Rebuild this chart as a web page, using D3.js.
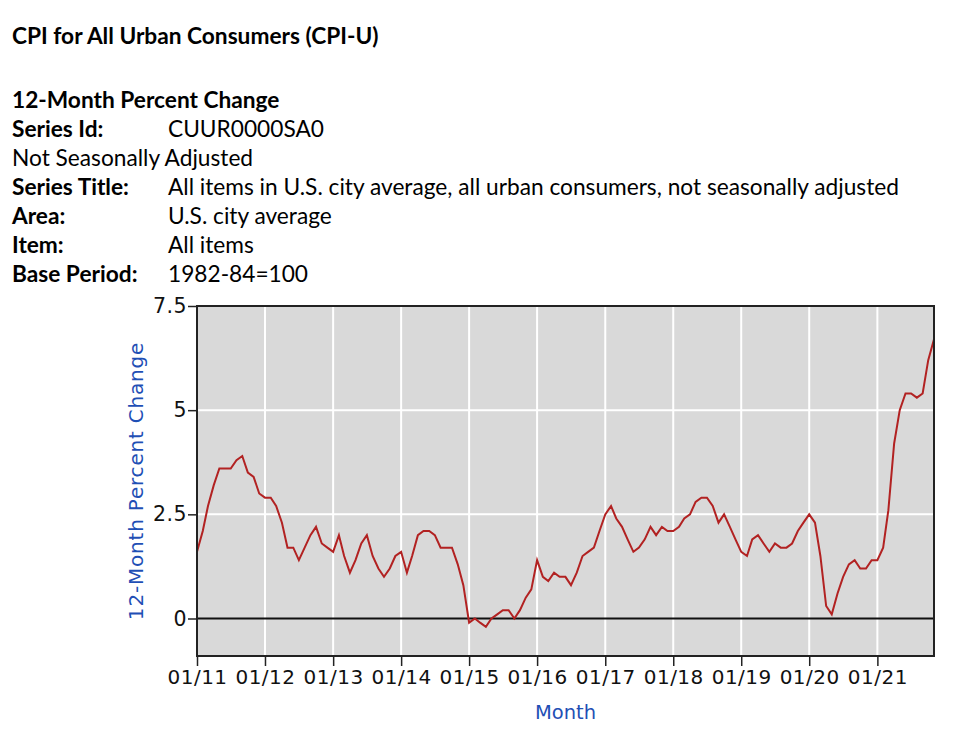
<!DOCTYPE html>
<html>
<head>
<meta charset="utf-8">
<script src="https://cdn.jsdelivr.net/npm/d3@7"></script>
<style>
  html, body { margin: 0; padding: 0; background: #fff; }
  svg { display: block; }
</style>
</head>
<body>
<svg id="chart" width="979" height="737"></svg>
<script>
// ---------- data ----------
const title = "CPI for All Urban Consumers (CPI-U)";
const subtitle = "12-Month Percent Change";
const metaLabels = ["Series Id:", "", "Series Title:", "Area:", "Item:", "Base Period:"];
const metaValues = ["CUUR0000SA0", "Not Seasonally Adjusted",
  "All items in U.S. city average, all urban consumers, not seasonally adjusted",
  "U.S. city average", "All items", "1982-84=100"];

const startYear = 2011;
const startMonth = 0; // January
const values = [
  // 2011
  1.6, 2.1, 2.7, 3.2, 3.6, 3.6, 3.6, 3.8, 3.9, 3.5, 3.4, 3.0,
  // 2012
  2.9, 2.9, 2.7, 2.3, 1.7, 1.7, 1.4, 1.7, 2.0, 2.2, 1.8, 1.7,
  // 2013
  1.6, 2.0, 1.5, 1.1, 1.4, 1.8, 2.0, 1.5, 1.2, 1.0, 1.2, 1.5,
  // 2014
  1.6, 1.1, 1.5, 2.0, 2.1, 2.1, 2.0, 1.7, 1.7, 1.7, 1.3, 0.8,
  // 2015
  -0.1, 0.0, -0.1, -0.2, 0.0, 0.1, 0.2, 0.2, 0.0, 0.2, 0.5, 0.7,
  // 2016
  1.4, 1.0, 0.9, 1.1, 1.0, 1.0, 0.8, 1.1, 1.5, 1.6, 1.7, 2.1,
  // 2017
  2.5, 2.7, 2.4, 2.2, 1.9, 1.6, 1.7, 1.9, 2.2, 2.0, 2.2, 2.1,
  // 2018
  2.1, 2.2, 2.4, 2.5, 2.8, 2.9, 2.9, 2.7, 2.3, 2.5, 2.2, 1.9,
  // 2019
  1.6, 1.5, 1.9, 2.0, 1.8, 1.6, 1.8, 1.7, 1.7, 1.8, 2.1, 2.3,
  // 2020
  2.5, 2.3, 1.5, 0.3, 0.1, 0.6, 1.0, 1.3, 1.4, 1.2, 1.2, 1.4,
  // 2021
  1.4, 1.7, 2.6, 4.2, 5.0, 5.4, 5.4, 5.3, 5.4, 6.2, 6.7
];
const yTicks = [0, 2.5, 5, 7.5];
const yTickLabels = ["0", "2.5", "5", "7.5"];
const xTickYears = [2011, 2012, 2013, 2014, 2015, 2016, 2017, 2018, 2019, 2020, 2021];
const yMin = -0.9, yMax = 7.5;
const yTitle = "12-Month Percent Change";
const xTitle = "Month";

// ---------- build ----------
const data = values.map((v, i) => ({ date: new Date(startYear, startMonth + i, 1), value: v }));

const svg = d3.select("#chart");
const textFont = "Lato, 'Source Sans Pro', 'Noto Sans', sans-serif";
const axisFont = "'DejaVu Sans', Verdana, sans-serif";
const hSize = 22.7;

// header
const header = svg.append("g");
header.append("text").attr("x", 12).attr("y", 44)
  .attr("font-family", textFont).attr("font-weight", 700).attr("font-size", hSize)
  .attr("fill", "#000").text(title);
header.append("text").attr("x", 12).attr("y", 108)
  .attr("font-family", textFont).attr("font-weight", 700).attr("font-size", hSize)
  .attr("fill", "#000").text(subtitle);

const lineY0 = 137, lineStep = 28.9;
metaValues.forEach((val, i) => {
  const yy = lineY0 + i * lineStep;
  if (metaLabels[i]) {
    header.append("text").attr("x", 12).attr("y", yy)
      .attr("font-family", textFont).attr("font-weight", 700).attr("font-size", hSize)
      .attr("fill", "#000").text(metaLabels[i]);
    header.append("text").attr("x", 168).attr("y", yy)
      .attr("font-family", textFont).attr("font-weight", 400).attr("font-size", hSize)
      .attr("fill", "#000").text(val);
  } else {
    header.append("text").attr("x", 12).attr("y", yy)
      .attr("font-family", textFont).attr("font-weight", 400).attr("font-size", hSize)
      .attr("fill", "#000").text(val);
  }
});

// chart area
const pLeft = 197, pRight = 934, pTop = 306, pBottom = 656;
const x = d3.scaleTime()
  .domain([data[0].date, data[data.length - 1].date])
  .range([pLeft, pRight]);
const y = d3.scaleLinear().domain([yMin, yMax]).range([pBottom, pTop]);

svg.append("rect").attr("x", pLeft).attr("y", pTop)
  .attr("width", pRight - pLeft).attr("height", pBottom - pTop)
  .attr("fill", "#d9d9d9");

const xTickDates = xTickYears.map(yr => new Date(yr, 0, 1));

// grid
svg.append("g").selectAll("line").data(xTickDates.slice(1)).join("line")
  .attr("x1", d => x(d)).attr("x2", d => x(d))
  .attr("y1", pTop).attr("y2", pBottom)
  .attr("stroke", "#fff").attr("stroke-width", 2);
svg.append("g").selectAll("line").data(yTicks.filter(t => t !== 0 && t !== yMax)).join("line")
  .attr("x1", pLeft).attr("x2", pRight)
  .attr("y1", d => y(d)).attr("y2", d => y(d))
  .attr("stroke", "#fff").attr("stroke-width", 2);

// zero line
svg.append("line").attr("x1", pLeft).attr("x2", pRight)
  .attr("y1", y(0)).attr("y2", y(0))
  .attr("stroke", "#111").attr("stroke-width", 2);

// data line
svg.append("path").datum(data)
  .attr("fill", "none").attr("stroke", "#b22222").attr("stroke-width", 2)
  .attr("d", d3.line().x(d => x(d.date)).y(d => y(d.value)));

// frame
svg.append("rect").attr("x", pLeft).attr("y", pTop)
  .attr("width", pRight - pLeft).attr("height", pBottom - pTop)
  .attr("fill", "none").attr("stroke", "#222").attr("stroke-width", 2);

// y axis
const yAxis = d3.axisLeft(y).tickValues(yTicks)
  .tickFormat((d, i) => yTickLabels[i]).tickSize(9).tickPadding(1);
const gy = svg.append("g").attr("transform", `translate(${pLeft},0)`).call(yAxis);
gy.select(".domain").remove();
gy.selectAll("line").attr("stroke", "#222").attr("stroke-width", 1.5);
gy.selectAll("text").attr("font-family", axisFont).attr("font-size", 20.5)
  .attr("letter-spacing", 0.5).attr("fill", "#111");

// x axis
const xAxis = d3.axisBottom(x).tickValues(xTickDates)
  .tickFormat(d3.timeFormat("%m/%y")).tickSize(10).tickPadding(4);
const gx = svg.append("g").attr("transform", `translate(0,${pBottom})`).call(xAxis);
gx.select(".domain").remove();
gx.selectAll("line").attr("stroke", "#222").attr("stroke-width", 1.5);
gx.selectAll("text").attr("font-family", axisFont).attr("font-size", 20)
  .attr("letter-spacing", 0.5).attr("fill", "#111");

// axis titles
svg.append("text")
  .attr("transform", `translate(143,${(pTop + pBottom) / 2}) rotate(-90)`)
  .attr("text-anchor", "middle")
  .attr("font-family", axisFont).attr("font-size", 20).attr("letter-spacing", 0.8)
  .attr("fill", "#1f4fb5")
  .text(yTitle);
svg.append("text")
  .attr("x", (pLeft + pRight) / 2).attr("y", 719)
  .attr("text-anchor", "middle")
  .attr("font-family", axisFont).attr("font-size", 19.5).attr("fill", "#1f4fb5")
  .text(xTitle);
</script>
</body>
</html>
